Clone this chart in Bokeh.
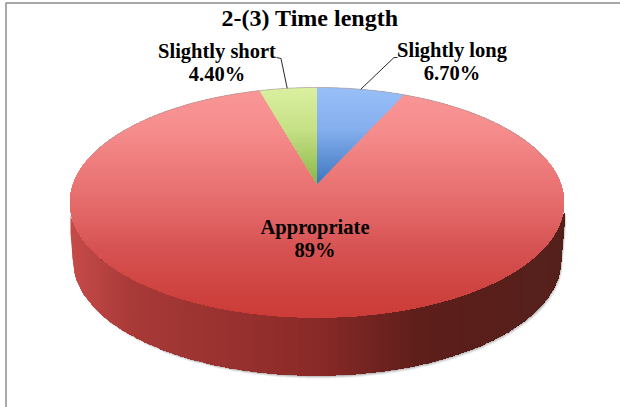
import numpy as np
from bokeh.plotting import figure
from bokeh.models import Range1d
from bokeh.core.properties import value
from bokeh.embed import file_html
from bokeh.resources import INLINE

title_text = "2-(3) Time length"
categories = ["Slightly long", "Appropriate", "Slightly short"]
shares = [6.7, 89.0, 4.4]
share_labels = ["6.70%", "89%", "4.40%"]

W, H = 620, 407
p = figure(width=W, height=H, output_backend="svg", toolbar_location=None,
           x_range=Range1d(0, W), y_range=Range1d(H, 0), min_border=0)
p.axis.visible = False
p.grid.visible = False
p.outline_line_color = None
p.background_fill_color = "white"
p.border_fill_color = "white"

# projected disc
AX, BY, K, CX, CY = 243.6, 111.9, 0.165, 316.5, 183.0
def disc(theta, scale=1.0, dy=0.0):
    d = 1 + K * np.cos(theta)
    return CX + scale * AX * np.sin(theta) / d, CY + dy - BY * np.cos(theta) / d

def hexc(c):
    return tuple(int(c[i:i + 2], 16) for i in (1, 3, 5))
def ramp(t, ts, cs):
    rgb = np.array([hexc(c) for c in cs], float)
    return "#%02x%02x%02x" % tuple(int(round(np.interp(t, ts, rgb[:, i]))) for i in range(3))

def clip(poly, y0):
    out = []
    for i in range(len(poly)):
        a, b = poly[i], poly[(i + 1) % len(poly)]
        ia, ib = a[1] >= y0, b[1] >= y0
        if ia:
            out.append(a)
        if ia != ib:
            t = (y0 - a[1]) / (b[1] - a[1])
            out.append((a[0] + t * (b[0] - a[0]), y0))
    return out

fr = np.array(shares) / sum(shares)
long_end = fr[0] * 2 * np.pi
short_start = 2 * np.pi - fr[2] * 2 * np.pi

def sector(a, b):
    th = np.linspace(a, b, 60)
    x, y = disc(th)
    return [(CX, CY)] + list(zip(x, y))

full = np.linspace(0, 2 * np.pi, 721)
tx, ty = disc(full)

# soft shadow + side wall
DEPTH = 58.0
grid = np.arange(70.0, 566.0, 2.0)
lower = np.full_like(grid, -1e9)
for t in np.linspace(0, 1, 40):
    sx, sy = disc(full, 1 - 0.02 * t, DEPTH * t)
    for i, g in enumerate(grid):
        near = np.abs(sx - g) < 2.0
        if near.any():
            lower[i] = max(lower[i], sy[near].max())
valid = lower > -1e8
gx, gl = grid[valid], lower[valid]
upper = np.array([ty[np.abs(tx - g) < 2.5].max() if np.any(np.abs(tx - g) < 2.5) else CY for g in gx]) - 4

for off, alpha in [(3.0, 0.10), (2.0, 0.16), (1.0, 0.28)]:
    p.patch(np.r_[gx, gx[::-1]] + off * 0.6, np.r_[gl + off, upper[::-1]],
            fill_color="#555555", fill_alpha=alpha, line_color=None)

side_x = [75, 130, 316, 420, 557]
side_c = ["#c44a48", "#a83a38", "#8a2a28", "#5e1e1a", "#55201c"]
xs, ys, cs = [], [], []
for i in range(len(gx) - 1):
    # each column reaches to the far end, so the next one paints over it and no seams show
    xs.append(np.r_[gx[i:], gx[i:][::-1]])
    ys.append(np.r_[upper[i:], gl[i:][::-1]])
    cs.append(ramp((gx[i] + gx[i + 1]) / 2, side_x, side_c))
p.patches(xs, ys, fill_color=cs, line_color=None)

# top face, banded gradient painted from the top down
def banded(poly, stops_y, stops_c, step=2.0):
    yy = [q[1] for q in poly]
    xs, ys, cs = [], [], []
    for a in np.arange(min(yy), max(yy), step):
        pts = clip(poly, a)
        if len(pts) >= 3:
            xs.append([q[0] for q in pts])
            ys.append([q[1] for q in pts])
            cs.append(ramp(a + step / 2, stops_y, stops_c))
    p.patches(xs, ys, fill_color=cs, line_color=None)

banded(list(zip(tx, ty)), [87, 130, 200, 250, 300, 317],
       ["#fa9797", "#f68c8c", "#e66c6c", "#d65252", "#cd403c", "#cc3c38"])
banded(sector(0, long_end), [87, 130, 183], ["#98bff8", "#84aeed", "#3f76be"])
banded(sector(short_start, 2 * np.pi), [87, 130, 183], ["#dbf0a0", "#c5e085", "#88b846"])

# rim highlight on the upper edge
arc = np.linspace(-np.pi * 0.42, np.pi * 0.42, 200)
ax_, ay_ = disc(arc)
p.line(ax_, ay_, line_color="#9a9a9a", line_alpha=0.55, line_width=1.0)

# leader lines
long_pt = disc(long_end * 0.5)
short_pt = disc(2 * np.pi - fr[2] * np.pi)
p.line([long_pt[0], 393.5, 397], [long_pt[1], 57, 57], line_color="#111111", line_width=0.9)
p.line([short_pt[0] - 1, 280.5, 276], [short_pt[1], 58, 57], line_color="#111111", line_width=0.9)

# frame
p.line([5.5, 5.5, W], [H, 2.5, 2.5], line_color="#8c8c8c", line_width=1.5)

serif = value("Liberation Serif")
def label(x, y, s, size):
    p.text([x], [y], text=[s], text_font=serif, text_font_style="bold", text_font_size=size,
           text_align="center", text_baseline="middle", text_color="#000000")

label(309.5, 17, title_text, "24px")
label(216.5, 50.5, categories[2], "20.5px")
label(216.5, 73.5, share_labels[2], "20.5px")
label(451.5, 49.5, categories[0], "20.5px")
label(451.5, 72.5, share_labels[0], "20.5px")
label(314.5, 226.5, categories[1], "20.5px")
label(314.5, 249.5, share_labels[1], "20.5px")

open("out.html", "w").write(file_html(p, INLINE))
